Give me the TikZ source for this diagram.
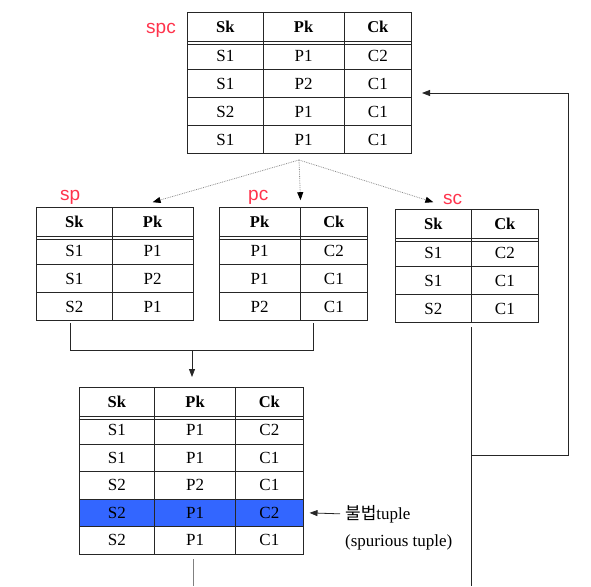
\documentclass[tikz,border=0pt]{standalone}
\usepackage{fontspec}
\setmainfont{Liberation Serif}
\newfontfamily\kofont{Noto Sans CJK KR}
\newfontfamily\tagfont{Liberation Sans}
\usetikzlibrary{matrix,arrows.meta,positioning}
\definecolor{tagred}{RGB}{255,51,76}
\definecolor{badblue}{RGB}{51,102,255}
\tikzset{
  tline/.style={draw=black!85, line width=0.8pt},
  tbl/.style={matrix of nodes, inner sep=0pt, anchor=north west,
    column sep=-0.8pt, row sep=-0.8pt,
    nodes={tline, inner sep=0pt, minimum height=28pt, anchor=center,
      font=\fontsize{17}{20}\selectfont},
    row 1/.style={nodes={minimum height=29pt, font=\fontsize{16.5}{20}\selectfont\bfseries}}},
  wsk/.style={nodes={minimum width=75.5pt}},
  wpk/.style={nodes={minimum width=81pt}},
  wck/.style={nodes={minimum width=67.5pt}},
  tag/.style={text=tagred, inner sep=0pt, anchor=base west, font=\tagfont\fontsize{19}{22}\selectfont},
  note/.style={inner sep=0pt, anchor=west, font=\fontsize{17}{20}\selectfont},
  dots/.style={draw=black!45, densely dotted, line width=0.8pt, -{Triangle[length=8pt,width=6pt,color=black]}},
  link/.style={draw=black!85, line width=0.8pt},
  >={Triangle[length=8pt,width=6pt]},
  bad/.style={fill=badblue}
}
\begin{document}
\begin{tikzpicture}[x=1pt,y=-1pt]
\useasboundingbox (0,0) rectangle (591,586);

\matrix (spc) [tbl, column 1/.style={wsk}, column 2/.style={wpk}, column 3/.style={wck}] at (187,12) {
  Sk & Pk & Ck \\
  S1 & P1 & C2 \\
  S1 & P2 & C1 \\
  S2 & P1 & C1 \\
  S1 & P1 & C1 \\
};
\matrix (sp) [tbl, column 1/.style={wsk}, column 2/.style={wpk}] at (36,207) {
  Sk & Pk \\
  S1 & P1 \\
  S1 & P2 \\
  S2 & P1 \\
};
\matrix (pc) [tbl, column 1/.style={wpk}, column 2/.style={wck}] at (218.5,207) {
  Pk & Ck \\
  P1 & C2 \\
  P1 & C1 \\
  P2 & C1 \\
};
\matrix (sc) [tbl, column 1/.style={wsk}, column 2/.style={wck}] at (395,209) {
  Sk & Ck \\
  S1 & C2 \\
  S1 & C1 \\
  S2 & C1 \\
};
\matrix (res) [tbl, row 2/.style={nodes={minimum height=27.5pt}}, row 3/.style={nodes={minimum height=27.5pt}},
  row 4/.style={nodes={minimum height=27.5pt}}, row 5/.style={nodes={minimum height=27.5pt}}, row 6/.style={nodes={minimum height=27.5pt}},
  column 1/.style={wsk}, column 2/.style={wpk}, column 3/.style={wck}] at (78.5,387) {
  Sk & Pk & Ck \\
  S1 & P1 & C2 \\
  S1 & P1 & C1 \\
  S2 & P2 & C1 \\
  |[bad]| S2 & |[bad]| P1 & |[bad]| C2 \\
  S2 & P1 & C1 \\
};

\foreach \t/\n in {spc/3,sp/2,pc/2,sc/2,res/3}
  \draw[tline] ([yshift=-2.4pt]\t-1-1.south west) -- ([yshift=-2.4pt]\t-1-\n.south east);

\node[tag] (spclab) at (146,34) {spc};
\node[tag] (splab) at (60,200.5) {sp};
\node[tag] (pclab) at (248,200.5) {pc};
\node[tag] (sclab) at (443,204) {sc};

\coordinate (fork) at (299,160);
\draw[dots] (fork) -- ([yshift=5pt]sp-1-2.north);
\draw[dots] (fork) -- ([yshift=7pt]pc-1-1.north east);
\draw[dots] (fork) -- ([yshift=7pt]sc-1-1.north);

\coordinate (spj) at (70,323);
\coordinate (pcj) at (313,323);
\coordinate (joint) at (192,350);
\draw[link] (spj) -- (spj |- joint) -- (pcj |- joint) -- (pcj);
\draw[link,->] (joint) -- ([yshift=10pt]joint |- res.north);

\coordinate (scj) at (471,327);
\coordinate (scend) at (471,586);
\coordinate (split) at (471,455);
\coordinate (corner) at (568,455);
\coordinate (back) at (422,93);
\draw[link] (scj) -- (scend);
\draw[link,->] (split) -- (corner) |- (back);

\coordinate (resout) at (193,559);
\coordinate (resend) at (193,586);
\draw[link, draw=black!50] (resout) -- (resend);

\node[note] (badtxt) at (345,514) {{\kofont 불법}tuple};
\node[note] (spurtxt) at (345,542) {(spurious tuple)};
\draw[link,->,shorten <=5pt] (badtxt.west) -- ([xshift=6pt]res-5-3.east);
\end{tikzpicture}
\end{document}
